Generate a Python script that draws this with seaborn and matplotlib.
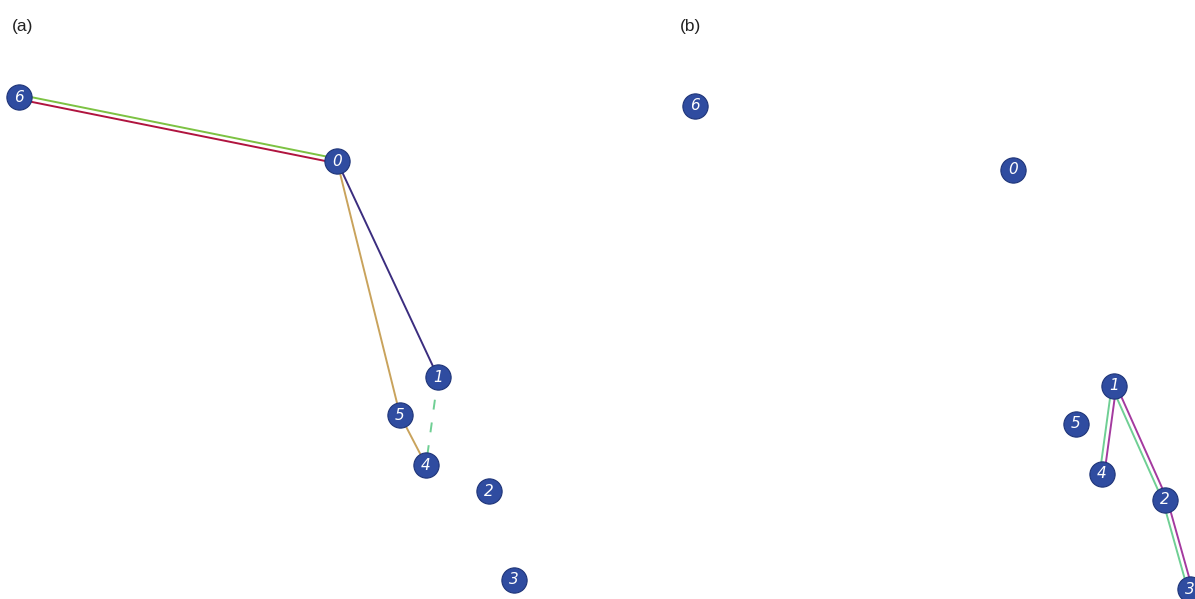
import numpy as np
import pandas as pd
import matplotlib

matplotlib.use("Agg")
import matplotlib.pyplot as plt
import seaborn as sns

# node layout (shared by both panels), in pixel-like layout units
node_ids = [0, 1, 2, 3, 4, 5, 6]
node_x = [337, 438, 489, 514, 426, 400, 19]
node_y = [161, 377, 491, 580, 465, 415, 97]

# edges: (source, target, colour, side offset, dashed)
edges_a = [
    (6, 0, "#7cc242", 2.3, False),
    (6, 0, "#b0143f", -2.3, False),
    (0, 1, "#3b2d7f", 0.0, False),
    (0, 5, "#c9a35c", 0.0, False),
    (5, 4, "#c9a35c", 0.0, False),
    (1, 4, "#6fcf94", 0.0, True),
]
edges_b = [
    (1, 4, "#a43a9f", 2.3, False),
    (1, 4, "#6fcf94", -2.3, False),
    (1, 2, "#a43a9f", 2.3, False),
    (1, 2, "#6fcf94", -2.3, False),
    (2, 3, "#a43a9f", 2.3, False),
    (2, 3, "#6fcf94", -2.3, False),
]

panel_labels = ["(a)", "(b)"]

nodes = pd.DataFrame({"id": node_ids, "x": node_x, "y": node_y}).set_index("id")

sns.set_theme(style="white")
plt.rcParams["font.family"] = ["Liberation Sans", "DejaVu Sans"]

W, H = 1195, 599
fig = plt.figure(figsize=(W / 100, H / 100), dpi=100)

# panel rectangles in pixels: (left, width, y-shift of view)
panels = [(0, 597, 0, edges_a), (676, 519, 9, edges_b)]


def draw_edges(ax, edges):
    for s, t, color, off, dashed in edges:
        p0 = nodes.loc[s, ["x", "y"]].to_numpy(float)
        p1 = nodes.loc[t, ["x", "y"]].to_numpy(float)
        d = (p1 - p0) / np.linalg.norm(p1 - p0)
        n = np.array([d[1], -d[0]])
        q0, q1 = p0 + n * off, p1 + n * off
        ax.plot(
            [q0[0], q1[0]],
            [q0[1], q1[1]],
            color=color,
            lw=1.4,
            ls=(0, (5.1, 6.7)) if dashed else "-",
            solid_capstyle="butt",
            zorder=1,
        )


for i, (left, width, shift, edges) in enumerate(panels):
    ax = fig.add_axes([left / W, 0, width / W, 1])
    ax.set_xlim(0, width)
    ax.set_ylim(H - shift, -shift)
    ax.axis("off")
    draw_edges(ax, edges)
    sns.scatterplot(
        data=nodes.reset_index(),
        x="x",
        y="y",
        s=330,
        color="#2f4ca0",
        edgecolor="#1e3478",
        linewidth=0.8,
        zorder=3,
        legend=False,
        ax=ax,
    )
    for nid, row in nodes.iterrows():
        ax.text(
            row["x"],
            row["y"],
            str(nid),
            color="white",
            fontsize=11,
            fontstyle="italic",
            family="DejaVu Sans",
            ha="center",
            va="center",
            zorder=4,
        )
    fig.text(
        (12 + (668 if i else 0)) / W,
        1 - 27 / H,
        panel_labels[i],
        fontsize=12.5,
        color="#222222",
        ha="left",
        va="center",
    )

fig.savefig("out.png", dpi=100)
